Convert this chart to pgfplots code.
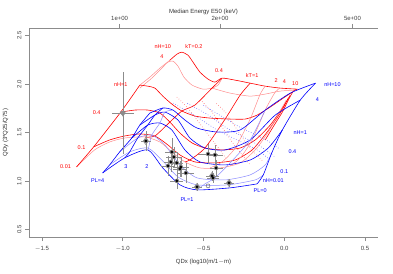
\documentclass[border=0pt]{standalone}
\usepackage{pgfplots}
\pgfplotsset{compat=1.18}
\usepackage{fontspec}
\setmainfont{Liberation Sans}
\definecolor{gr}{gray}{0.55}
\tikzset{lab/.style={font=\fontsize{5.5}{6}\selectfont, inner sep=0pt}}
\begin{document}
\begin{tikzpicture}
\pgfplotsset{
  every axis/.style={scale only axis, width=349pt, height=209pt,
    xmin=-1.58, xmax=0.58, ymin=0.42, ymax=2.58,
    axis line style={gr, line width=0.6pt},
    tick style={gr, line width=0.5pt},
    major tick length=4pt,
    tick align=outside,
    ticklabel style={font=\fontsize{6}{7}\selectfont, text=black!75},
    label style={font=\fontsize{6}{7}\selectfont, text=black!80},
    /pgf/number format/assume math mode=true,
  },
  rl/.style={red, line width=0.6pt, smooth, tension=0.4},
  rll/.style={red!45, line width=0.5pt, smooth, tension=0.4},
  rd/.style={red!60, dotted, line width=0.6pt, smooth, tension=0.4},
  bl/.style={blue, line width=0.6pt, smooth, tension=0.4},
  bll/.style={blue!45, line width=0.5pt, smooth, tension=0.4},
  bd/.style={blue!60, dotted, line width=0.6pt, smooth, tension=0.4},
}
\begin{axis}[
  axis x line*=bottom, axis y line*=left,
  xtick={-1.5,-1.0,-0.5,0.0,0.5},
  ytick={0.5,1.0,1.5,2.0,2.5},
  xticklabels={$-$1.5,$-$1.0,$-$0.5,0.0,0.5},
  yticklabels={0.5,1.0,1.5,2.0,2.5},
  yticklabel style={rotate=90},
  xticklabel style={yshift=-2pt},
  xlabel={QDx (log10(m/1$-$m)},
  ylabel={QDy (3*Q25/Q75)},
  xlabel style={yshift=-1pt},
  ylabel style={yshift=2pt},
  clip=false,
]
% ---------------- red (thermal) grid: constant nH ----------------
% nH=10
\addplot[rll] coordinates {(-0.894,1.990)(-0.832,2.072)(-0.770,2.165)(-0.708,2.247)};
\addplot[rl] coordinates {(-0.708,2.247)(-0.665,2.309)(-0.634,2.330)(-0.596,2.299)(-0.565,2.227)(-0.522,2.124)(-0.472,2.052)(-0.429,2.021)(-0.385,2.062)(-0.304,2.041)(-0.211,2.010)(-0.118,1.979)(-0.025,1.959)(0.081,1.948)};
% nH=4
\addplot[rll] coordinates {(-0.894,1.959)(-0.820,2.062)(-0.758,2.165)(-0.720,2.227)(-0.689,2.237)(-0.658,2.186)(-0.621,2.072)(-0.571,1.990)(-0.503,1.948)(-0.447,1.959)(-0.410,1.990)(-0.385,2.062)};
\addplot[rll] coordinates {(-0.447,1.959)(-0.335,1.907)(-0.211,1.876)(-0.118,1.897)(-0.025,1.928)(0.068,1.938)};
% nH=1
\addplot[rl] coordinates {(-0.894,1.990)(-0.845,1.979)(-0.801,1.959)(-0.752,1.876)(-0.696,1.794)(-0.634,1.722)(-0.553,1.670)(-0.460,1.649)(-0.335,1.639)(-0.242,1.639)(-0.168,1.680)(-0.087,1.763)(-0.006,1.856)(0.050,1.918)};
% nH=0.4
\addplot[rl] coordinates {(-1.012,1.711)(-0.925,1.732)(-0.845,1.732)(-0.770,1.701)(-0.708,1.608)(-0.646,1.495)(-0.571,1.392)(-0.491,1.340)(-0.385,1.320)(-0.273,1.340)(-0.180,1.423)(-0.087,1.577)(-0.012,1.753)(0.037,1.887)};
% nH=0.1
\addplot[rl] coordinates {(-1.180,1.351)(-1.081,1.423)(-0.988,1.464)(-0.894,1.485)(-0.801,1.464)(-0.720,1.371)(-0.646,1.268)(-0.553,1.196)(-0.429,1.186)(-0.304,1.216)(-0.199,1.320)(-0.106,1.505)(-0.025,1.701)(0.025,1.856)};
% nH=0.01
\addplot[rll] coordinates {(-1.286,1.144)(-1.174,1.320)(-1.081,1.402)(-0.988,1.443)(-0.863,1.454)(-0.770,1.402)(-0.696,1.299)(-0.615,1.196)(-0.522,1.134)(-0.398,1.134)(-0.273,1.186)(-0.180,1.320)(-0.099,1.505)(0.012,1.835)};
% ---------------- red: constant kT ----------------
\addplot[rl] coordinates {(-1.286,1.144)(-1.180,1.351)(-1.012,1.711)(-0.894,1.990)};
\addplot[rl] coordinates {(-0.385,2.062)(-0.447,1.959)(-0.553,1.784)(-0.634,1.722)(-0.708,1.608)(-0.801,1.464)(-0.863,1.454)};
\addplot[rl] coordinates {(-0.211,2.010)(-0.273,1.887)(-0.366,1.639)(-0.491,1.340)(-0.584,1.216)(-0.615,1.196)};
\addplot[rll] coordinates {(-0.118,1.979)(-0.149,1.897)(-0.211,1.639)(-0.304,1.340)(-0.385,1.196)(-0.460,1.134)};
\addplot[rll] coordinates {(-0.025,1.959)(-0.056,1.918)(-0.118,1.732)(-0.199,1.423)(-0.273,1.237)(-0.335,1.155)};
\addplot[rl] coordinates {(0.081,1.948)(0.056,1.928)(0.025,1.835)(-0.012,1.711)(-0.062,1.577)(-0.118,1.423)};
% red dotted
\addplot[rd] coordinates {(-0.665,1.866)(-0.602,1.763)(-0.540,1.629)(-0.460,1.454)(-0.398,1.320)(-0.354,1.216)};
\addplot[rd] coordinates {(-0.520,1.840)(-0.447,1.711)(-0.385,1.557)(-0.323,1.402)(-0.261,1.268)(-0.211,1.165)};
\addplot[rd] coordinates {(-0.420,1.800)(-0.360,1.700)(-0.300,1.550)(-0.240,1.400)(-0.180,1.280)(-0.130,1.200)};
% ---------------- blue (power law) grid: constant nH ----------------
\addplot[bl] coordinates {(-0.832,1.701)(-0.752,1.753)(-0.689,1.732)(-0.615,1.629)(-0.540,1.546)(-0.416,1.505)(-0.273,1.526)(-0.118,1.732)(0.037,1.907)(0.193,2.010)};
\addplot[bl] coordinates {(-0.894,1.577)(-0.801,1.680)(-0.739,1.711)(-0.658,1.629)(-0.584,1.443)(-0.491,1.340)(-0.366,1.320)(-0.211,1.423)(-0.056,1.680)(0.099,1.835)};
\addplot[bl] coordinates {(-0.944,1.443)(-0.845,1.577)(-0.770,1.598)(-0.696,1.526)(-0.615,1.320)(-0.522,1.196)(-0.366,1.165)(-0.211,1.216)(-0.099,1.340)(-0.012,1.526)};
\addplot[bll] coordinates {(-1.019,1.299)(-0.907,1.443)(-0.820,1.474)(-0.739,1.371)(-0.646,1.165)(-0.540,1.031)(-0.366,1.010)(-0.211,1.062)(-0.118,1.165)(-0.075,1.299)};
\addplot[bll] coordinates {(-1.081,1.165)(-0.957,1.299)(-0.845,1.340)(-0.758,1.216)(-0.658,1.041)(-0.540,0.959)(-0.348,0.959)(-0.180,1.010)(-0.130,1.062)};
\addplot[bl] coordinates {(-1.124,1.082)(-0.988,1.237)(-0.845,1.320)(-0.752,1.134)(-0.646,0.959)(-0.540,0.907)(-0.335,0.928)(-0.168,0.969)};
% ---------------- blue: constant PL ----------------
\addplot[bl] coordinates {(-1.124,1.082)(-1.081,1.165)(-1.019,1.299)(-0.944,1.443)(-0.894,1.577)(-0.832,1.701)};
\addplot[bl] coordinates {(-0.988,1.237)(-0.957,1.299)(-0.907,1.443)(-0.845,1.577)(-0.801,1.680)(-0.752,1.753)};
\addplot[bll] coordinates {(-0.845,1.320)(-0.840,1.340)(-0.820,1.474)(-0.770,1.598)(-0.739,1.711)(-0.689,1.732)};
\addplot[bll] coordinates {(-0.540,0.907)(-0.491,0.969)(-0.429,1.031)(-0.335,1.186)(-0.211,1.423)(-0.118,1.732)};
\addplot[bl] coordinates {(-0.168,0.969)(-0.130,1.062)(-0.075,1.299)(-0.012,1.526)(0.099,1.835)(0.193,2.010)};
% blue dotted
\addplot[bd] coordinates {(-0.689,1.804)(-0.540,1.660)(-0.416,1.526)(-0.292,1.423)(-0.168,1.320)(-0.087,1.216)};
\addplot[bd] coordinates {(-0.600,1.800)(-0.470,1.680)(-0.360,1.550)(-0.250,1.450)(-0.150,1.360)(-0.060,1.250)};
\addplot[bd] coordinates {(-0.500,1.780)(-0.380,1.660)(-0.280,1.560)(-0.180,1.480)(-0.090,1.400)(-0.030,1.330)};
% ---------------- data ----------------
\addplot[gr, only marks, mark=none, error bars/.cd, x dir=both, y dir=both, x explicit, y explicit,
  error bar style={gr, line width=0.4pt}, error mark=none]
  coordinates {
  (-0.999,1.701) +- (0.07,0.42)
  (-0.857,1.412) +- (0.03,0.10)
  (-0.696,1.299) +- (0.04,0.14)
  (-0.683,1.247) +- (0.05,0.10)
  (-0.702,1.196) +- (0.04,0.10)
  (-0.720,1.155) +- (0.04,0.10)
  (-0.665,1.186) +- (0.04,0.10)
  (-0.640,1.144) +- (0.05,0.10)
  (-0.646,1.124) +- (0.04,0.08)
  (-0.609,1.082) +- (0.05,0.10)
  (-0.665,1.000) +- (0.04,0.08)
  (-0.540,0.938) +- (0.03,0.04)
  (-0.472,1.278) +- (0.06,0.10)
  (-0.429,1.268) +- (0.05,0.10)
  (-0.422,1.134) +- (0.04,0.08)
  (-0.447,1.052) +- (0.04,0.05)
  (-0.441,1.031) +- (0.04,0.05)
  (-0.342,0.979) +- (0.03,0.04)
  };
\addplot[gr, only marks, mark=triangle, mark size=3pt, mark options={rotate=180, line width=0.6pt}] coordinates {(-0.999,1.701)};
\addplot[gr, only marks, mark=diamond, mark size=3.5pt, mark options={line width=0.6pt}] coordinates {(-0.857,1.412)(-0.540,0.938)(-0.447,1.052)(-0.342,0.979)};
\addplot[black, only marks, mark=*, mark size=1.2pt] coordinates {
  (-0.857,1.412)(-0.696,1.299)(-0.683,1.247)(-0.702,1.196)(-0.720,1.155)(-0.665,1.186)
  (-0.640,1.144)(-0.646,1.124)(-0.609,1.082)(-0.665,1.000)(-0.540,0.938)(-0.472,1.278)
  (-0.429,1.268)(-0.422,1.134)(-0.447,1.052)(-0.441,1.031)(-0.342,0.979)};
\addplot[black!70, only marks, mark=o, mark size=2pt] coordinates {(-0.472,0.948)};
% ---------------- labels ----------------
\begin{scope}[every node/.style={lab, text=red}]
\node at (axis cs:-1.354,1.144) {0.01};
\node at (axis cs:-1.255,1.340) {0.1};
\node at (axis cs:-1.161,1.701) {0.4};
\node at (axis cs:-1.012,2.000) {nH=1};
\node at (axis cs:-0.758,2.289) {4};
\node at (axis cs:-0.752,2.392) {nH=10};
\node at (axis cs:-0.559,2.392) {kT=0.2};
\node at (axis cs:-0.404,2.144) {0.4};
\node at (axis cs:-0.199,2.093) {kT=1};
\node at (axis cs:-0.050,2.041) {2};
\node at (axis cs:0,2.021) {4};
\node at (axis cs:0.068,2.010) {10};
\end{scope}
\begin{scope}[every node/.style={lab, text=blue}]
\node at (axis cs:0.298,1.990) {nH=10};
\node at (axis cs:0.205,1.845) {4};
\node at (axis cs:0.099,1.495) {nH=1};
\node at (axis cs:0.050,1.299) {0.4};
\node at (axis cs:0,1.093) {0.1};
\node at (axis cs:-0.068,1.000) {nH=0.01};
\node at (axis cs:-0.149,0.897) {PL=0};
\node at (axis cs:-0.602,0.804) {PL=1};
\node at (axis cs:-0.851,1.144) {2};
\node at (axis cs:-0.981,1.144) {3};
\node at (axis cs:-1.155,1.000) {PL=4};
\end{scope}
\end{axis}
\begin{axis}[
  axis x line*=top, axis y line=none,
  xtick={-1.019,-0.398,0.422},
  xticklabels={1e+00,2e+00,5e+00},
  xlabel={Median Energy E50 (keV)},
  xlabel style={yshift=-5pt},
  ytick=\empty,
]
\end{axis}
\pgfresetboundingbox
\path[use as bounding box] ([shift={(-29pt,-36pt)}]current axis.south west) rectangle ([shift={(15pt,28pt)}]current axis.north east);
\end{tikzpicture}
\end{document}
